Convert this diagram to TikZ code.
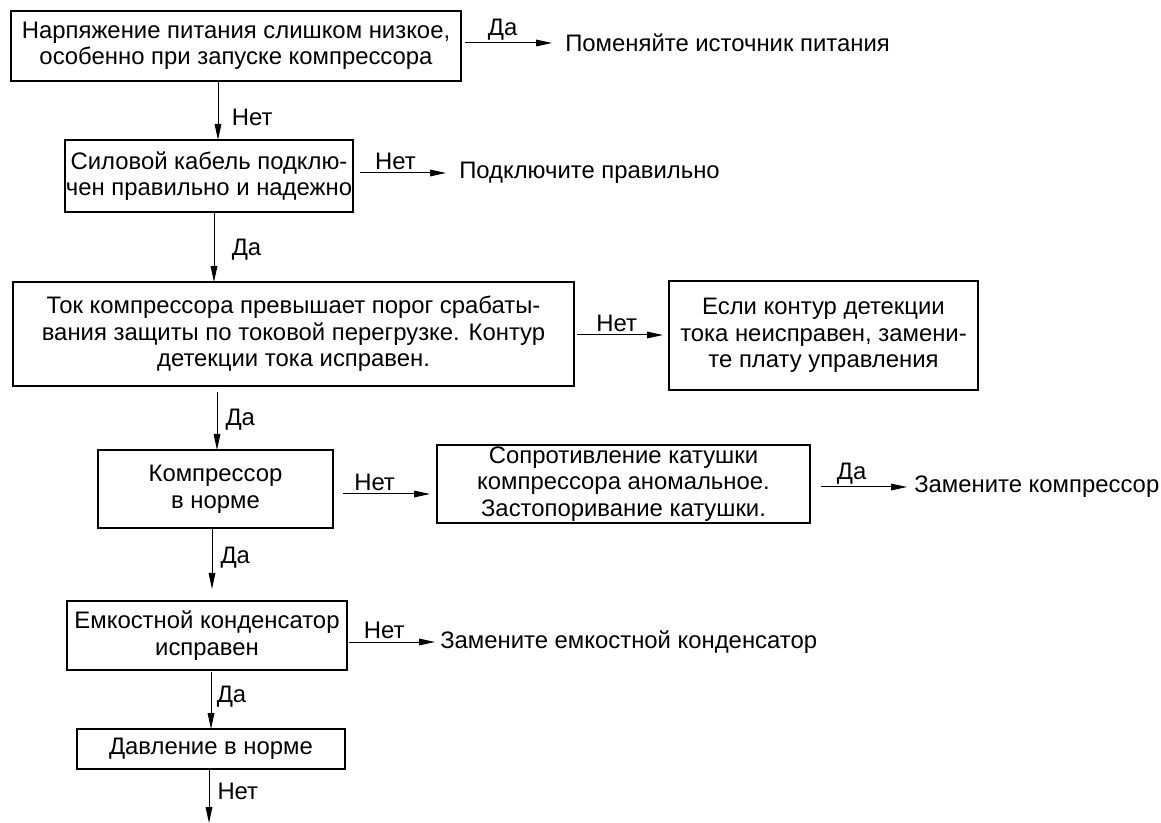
\documentclass[tikz,border=0pt]{standalone}
\usepackage{fontspec}
\setmainfont{Liberation Sans}
\usetikzlibrary{arrows.meta}

\tikzset{
  box/.style={draw, line width=0.9pt, inner sep=0pt, outer sep=0pt, align=center},
  act/.style={inner sep=0pt, anchor=west},
  lbl/.style={inner sep=2pt},
  arr/.style={-{Triangle[length=12pt,width=5pt]}, line width=0.75pt}
}

\begin{document}
\begin{tikzpicture}[x=0.75pt, y=-0.75pt, font=\fontsize{17.9pt}{19.9pt}\selectfont]
      \useasboundingbox (0,0) rectangle (1161,823);
      \draw
        (236,46) node[box, minimum width=337.5pt, minimum height=52.5pt] (1)
          {Нарпяжение питания слишком низкое,\\особенно при запуске компрессора}
        (209,176) node[box, minimum width=216pt, minimum height=54pt] (2)
          {Силовой кабель подклю-\\чен правильно и надежно}
        (293.5,334) node[box, minimum width=420.75pt, minimum height=78pt] (3)
          {Ток компрессора превышает порог срабаты-\\вания защиты по токовой перегрузке. Контур\\детекции тока исправен.}
        (823.5,335.5) node[box, minimum width=231.75pt, minimum height=81.75pt] (4)
          {Если контур детекции\\тока неисправен, замени-\\те плату управления}
        (215.5,489) node[box, minimum width=176.25pt, minimum height=58.5pt] (5)
          {Компрессор\\в норме}
        (623.5,484) node[box, minimum width=279.75pt, minimum height=58.5pt] (6)
          {Сопротивление катушки\\компрессора аномальное.\\Застопоривание катушки.}
        (207,635.5) node[box, minimum width=210pt, minimum height=51.75pt] (7)
          {Емкостной конденсатор\\исправен}
        (211,749) node[box, minimum width=201pt, minimum height=30pt] (8)
          {Давление в норме}
        (565,43) node[act] (a1) {Поменяйте источник питания}
        (459,173) node[act] (a2) {Подключите правильно}
        (914,487) node[act] (a3) {Замените компрессор}
        (440,642) node[act] (a4) {Замените емкостной конденсатор};
      \coordinate (end) at (209,823);
      \begin{scope}[arr]
        % answers to the right
        \draw[shorten <=3pt, shorten >=9.75pt] (1.east |- a1) to
          node[lbl, above, pos=0.4] {Да} (a1.west);
        \draw[shorten <=5.25pt, shorten >=9.75pt] (2.east |- a2) to
          node[lbl, above, pos=0.4] {Нет} (a2.west);
        \draw[shorten <=2.25pt, shorten >=4.5pt] (3.east |- 0,335) to
          node[lbl, above, pos=0.45] {Нет} (4.west |- 0,335);
        \draw[shorten <=7.5pt, shorten >=5.25pt] (5.east |- 0,494) to
          node[lbl, above, pos=0.4] {Нет} (6.west |- 0,494);
        \draw[shorten <=8.25pt, shorten >=5.25pt] (6.east |- a3) to
          node[lbl, above, pos=0.4] {Да} (a3.west);
        \draw[shorten <=1.5pt, shorten >=3.75pt] (7.east |- a4) to
          node[lbl, above, pos=0.4] {Нет} (a4.west);
        % main line down
        \draw (218,0 |- 1.south) to
          node[lbl, right, xshift=8pt, yshift=-5pt] {Нет} (218,0 |- 2.north);
        \draw (214,0 |- 2.south) to
          node[lbl, right, xshift=11pt, yshift=-2pt] {Да} (214,0 |- 3.north);
        \draw[shorten <=4.5pt] (217,0 |- 3.south) to
          node[lbl, right, xshift=4pt, yshift=-1pt] {Да} (217,0 |- 5.north);
        \draw[shorten >=9pt] (212,0 |- 5.south) to
          node[lbl, right, xshift=4pt, yshift=5pt] {Да} (212,0 |- 7.north);
        \draw[shorten <=1.5pt] (211,0 |- 7.south) to
          node[lbl, right, xshift=2pt, yshift=2pt] {Да} (211,0 |- 8.north);
        \draw (8.south -| end) to
          node[lbl, right, xshift=4pt, yshift=3.5pt] {Нет} (end);
      \end{scope}
    \end{tikzpicture}
\end{document}
